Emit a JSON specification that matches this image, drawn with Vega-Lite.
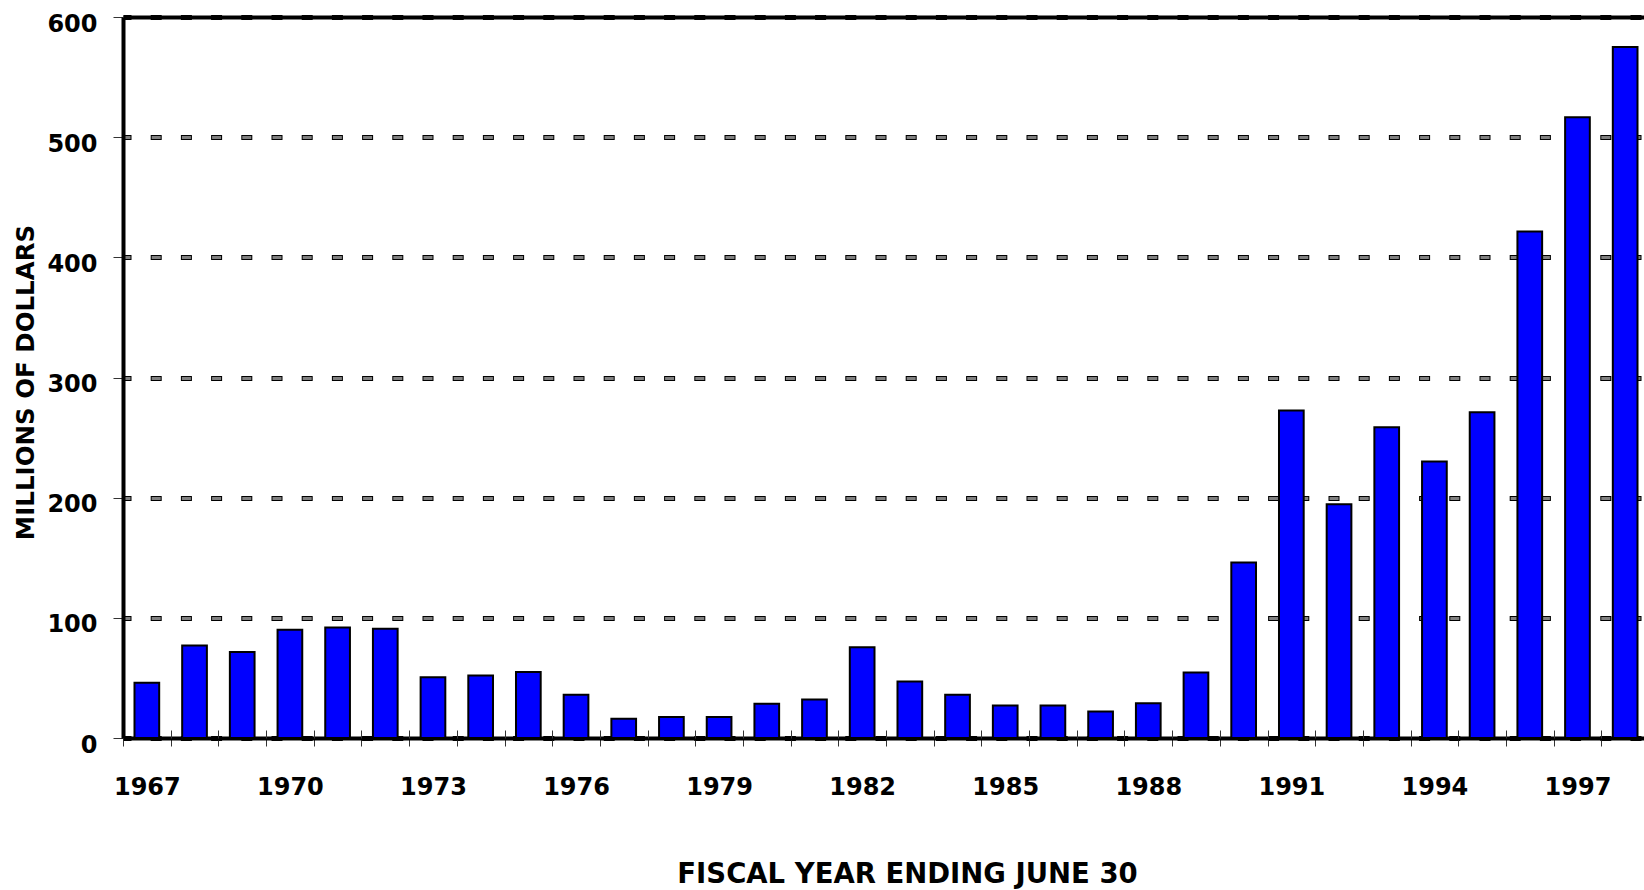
{
  "$schema": "https://vega.github.io/schema/vega-lite/v6.json",
  "width": 1521,
  "height": 721,
  "autosize": {"type": "none"},
  "padding": {"left": 123, "top": 17, "right": 0, "bottom": 152},
  "background": "white",
  "config": {
    "view": {"stroke": null},
    "axis": {
      "labelFont": "DejaVu Sans",
      "titleFont": "DejaVu Sans",
      "labelColor": "black",
      "titleColor": "black",
      "labelFontWeight": "bold",
      "titleFontWeight": "bold"
    }
  },
  "data": {
    "values": [
      {"year": 1967, "amount": 46},
      {"year": 1968, "amount": 77},
      {"year": 1969, "amount": 71.5},
      {"year": 1970, "amount": 90},
      {"year": 1971, "amount": 92},
      {"year": 1972, "amount": 91},
      {"year": 1973, "amount": 50.5},
      {"year": 1974, "amount": 52},
      {"year": 1975, "amount": 55},
      {"year": 1976, "amount": 36},
      {"year": 1977, "amount": 16},
      {"year": 1978, "amount": 17.5},
      {"year": 1979, "amount": 17.5},
      {"year": 1980, "amount": 28.5},
      {"year": 1981, "amount": 32},
      {"year": 1982, "amount": 75.5},
      {"year": 1983, "amount": 47},
      {"year": 1984, "amount": 36},
      {"year": 1985, "amount": 27},
      {"year": 1986, "amount": 27},
      {"year": 1987, "amount": 22},
      {"year": 1988, "amount": 29},
      {"year": 1989, "amount": 54.5},
      {"year": 1990, "amount": 146},
      {"year": 1991, "amount": 272.5},
      {"year": 1992, "amount": 194.5},
      {"year": 1993, "amount": 258.5},
      {"year": 1994, "amount": 230},
      {"year": 1995, "amount": 271},
      {"year": 1996, "amount": 421.5},
      {"year": 1997, "amount": 516.5},
      {"year": 1998, "amount": 575}
    ]
  },
  "layer": [
    {
      "mark": {"type": "bar", "fill": "#0000ff", "stroke": "black", "strokeWidth": 2, "width": {"band": 0.518}},
      "encoding": {
        "x": {
          "field": "year",
          "type": "ordinal",
          "scale": {"type": "band", "paddingInner": 0, "paddingOuter": 0, "range": [0, 1526]},
          "axis": {
            "orient": "bottom",
            "title": "FISCAL YEAR ENDING JUNE 30",
            "labelExpr": "(datum.value - 1967) % 3 == 0 ? datum.label : ''",
            "labelAngle": 0,
            "labelOverlap": false,
            "tickBand": "extent",
            "grid": false,
            "domainColor": "black",
            "domainWidth": 4,
            "tickColor": "#333333",
            "tickWidth": 1,
            "tickSize": 8,
            "labelFontSize": 24,
            "labelPadding": 29,
            "labelBaseline": "top",
            "titleFontSize": 27.5,
            "titleX": 784,
            "titleY": 150,
            "titleAlign": "center",
            "titleBaseline": "bottom"
          }
        },
        "y": {
          "field": "amount",
          "type": "quantitative",
          "scale": {"domain": [0, 600], "nice": false},
          "axis": {
            "orient": "left",
            "title": "MILLIONS OF DOLLARS",
            "values": [0, 100, 200, 300, 400, 500, 600],
            "grid": true,
            "gridColor": "black",
            "gridOpacity": 1,
            "gridWidth": 5,
            "gridDash": [11, 19.2],
            "gridDashOffset": 3,
            "domainColor": "black",
            "domainWidth": 4,
            "tickColor": "#333333",
            "tickWidth": 1,
            "tickSize": 10,
            "labelFontSize": 24,
            "labelPadding": 16,
            "labelBaseline": "middle",
            "labelOffset": 7,
            "titleFontSize": 24.5,
            "titleAngle": -90,
            "titleBaseline": "middle",
            "titleAlign": "center",
            "titleX": -96.4,
            "titleY": 365
          }
        }
      }
    },
    {
      "mark": {"type": "bar", "opacity": 0},
      "encoding": {
        "x": {
          "field": "year",
          "type": "ordinal",
          "scale": {"type": "band", "paddingInner": 0, "paddingOuter": 0, "range": [0, 1526]},
          "axis": {
            "orient": "bottom",
            "offset": -8,
            "title": null,
            "tickBand": "extent",
            "domain": false,
            "labels": false,
            "grid": false,
            "ticks": true,
            "tickSize": 8,
            "tickColor": "#333333",
            "tickWidth": 1
          }
        },
        "y": {
          "field": "amount",
          "type": "quantitative",
          "scale": {"domain": [0, 600], "nice": false},
          "axis": {
            "orient": "left",
            "title": null,
            "values": [100, 200, 300, 400, 500, 600],
            "grid": true,
            "gridColor": "#808080",
            "gridOpacity": 1,
            "gridWidth": 3,
            "gridDash": [9, 21.2],
            "gridDashOffset": 2,
            "domain": false,
            "ticks": false,
            "labels": false
          }
        }
      }
    },
    {
      "mark": {"type": "bar", "opacity": 0},
      "encoding": {
        "x": {
          "field": "year",
          "type": "ordinal",
          "scale": {"type": "band", "paddingInner": 0, "paddingOuter": 0, "range": [0, 1526]},
          "axis": {
            "orient": "top",
            "title": null,
            "domain": true,
            "domainColor": "black",
            "domainWidth": 4,
            "ticks": false,
            "labels": false,
            "grid": false
          }
        },
        "y": {
          "field": "amount",
          "type": "quantitative",
          "scale": {"domain": [0, 600], "nice": false},
          "axis": null
        }
      }
    }
  ],
  "resolve": {"axis": {"x": "independent", "y": "independent"}}
}
